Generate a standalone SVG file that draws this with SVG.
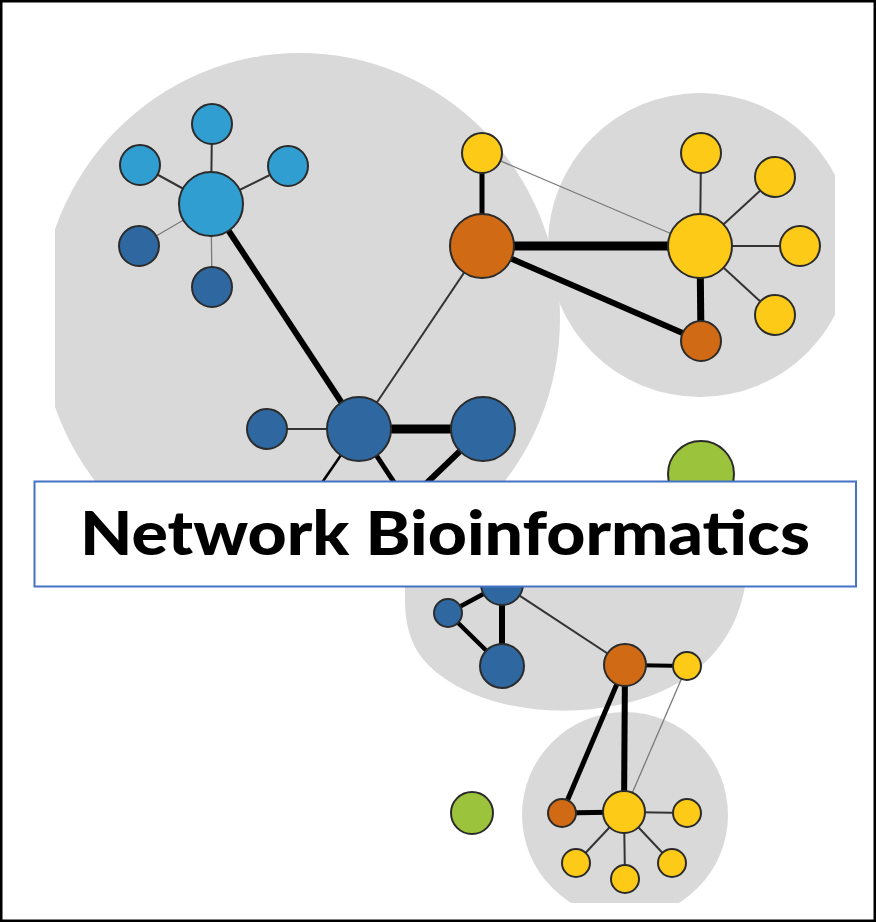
<svg xmlns="http://www.w3.org/2000/svg" width="876" height="922" viewBox="0 0 876 922">
  <style>
    .blob { fill: #d9d9d9; }
    .node { stroke: #2b2b2b; stroke-width: 2; }
    .lb { fill: #319ed1; }
    .db { fill: #2f68a0; }
    .or { fill: #d06a14; }
    .ye { fill: #fdcb17; }
    .gr { fill: #9bc43c; }
    .e { stroke: #000; fill: none; stroke-linecap: butt; }
    .thin { stroke: #333; stroke-width: 2; }
    .hair { stroke: #7a7a7a; stroke-width: 1.3; }
    .title { font-family: Lato, "Open Sans", "Liberation Sans", sans-serif; font-weight: 900; font-size: 60px; fill: #000; }
  </style>
  <defs>
    <clipPath id="clipBig"><rect x="55" y="0" width="821" height="922"/></clipPath>
    <clipPath id="clipTR"><rect x="0" y="0" width="835" height="922"/></clipPath>
    <clipPath id="clipLow"><rect x="0" y="0" width="876" height="903"/></clipPath>
  </defs>
  <rect x="0" y="0" width="876" height="922" fill="#fff"/>

  <g id="clusters">
    <ellipse class="blob" cx="300" cy="318" rx="260" ry="265" clip-path="url(#clipBig)"/>
    <circle class="blob" cx="700" cy="245" r="152" clip-path="url(#clipTR)"/>
    <path class="blob" d="M405,481 L752,481 C754,540 748,600 730,630 C705,675 660,700 600,708 C545,716 480,706 440,675 C420,660 405,640 405,600 Z"/>
    <circle class="blob" cx="625" cy="815" r="103" clip-path="url(#clipLow)"/>
  </g>

  <g id="connectors">
    <line class="e thin" x1="211" y1="204" x2="212" y2="124"/>
    <line class="e thin" x1="211" y1="204" x2="140" y2="165"/>
    <line class="e thin" x1="211" y1="204" x2="288" y2="166"/>
    <line class="e hair" x1="211" y1="204" x2="139" y2="246"/>
    <line class="e hair" x1="211" y1="204" x2="212" y2="287"/>
    <line class="e" stroke-width="6" x1="211" y1="204" x2="359" y2="429"/>
    <line class="e thin" x1="359" y1="429" x2="267" y2="429"/>
    <line class="e" stroke-width="9" x1="359" y1="429" x2="483" y2="429"/>
    <line class="e thin" x1="359" y1="429" x2="482" y2="246"/>
    <line class="e" stroke-width="2.5" x1="359" y1="429" x2="310" y2="500"/>
    <line class="e" stroke-width="5" x1="359" y1="429" x2="407" y2="502"/>
    <line class="e" stroke-width="6" x1="483" y1="429" x2="407" y2="502"/>
    <line class="e" stroke-width="5" x1="482" y1="246" x2="482" y2="153"/>
    <line class="e hair" x1="482" y1="153" x2="700" y2="246"/>
    <line class="e" stroke-width="9" x1="482" y1="246" x2="700" y2="246"/>
    <line class="e" stroke-width="6" x1="482" y1="246" x2="701" y2="341"/>
    <line class="e" stroke-width="7" x1="700" y1="246" x2="701" y2="341"/>
    <line class="e thin" x1="700" y1="246" x2="701" y2="153"/>
    <line class="e thin" x1="700" y1="246" x2="775" y2="177"/>
    <line class="e thin" x1="700" y1="246" x2="800" y2="246"/>
    <line class="e thin" x1="700" y1="246" x2="775" y2="315"/>
    <line class="e" stroke-width="4.5" x1="502" y1="584" x2="448" y2="613"/>
    <line class="e" stroke-width="4.5" x1="448" y1="613" x2="502" y2="666"/>
    <line class="e" stroke-width="6" x1="502" y1="584" x2="502" y2="666"/>
    <line class="e thin" x1="502" y1="584" x2="625" y2="665"/>
    <line class="e" stroke-width="4" x1="625" y1="665" x2="687" y2="666"/>
    <line class="e" stroke-width="6" x1="625" y1="665" x2="624" y2="812"/>
    <line class="e" stroke-width="5" x1="625" y1="665" x2="562" y2="813"/>
    <line class="e hair" x1="687" y1="666" x2="624" y2="812"/>
    <line class="e" stroke-width="5" x1="562" y1="813" x2="624" y2="812"/>
    <line class="e thin" x1="624" y1="812" x2="687" y2="813"/>
    <line class="e thin" x1="624" y1="812" x2="576" y2="863"/>
    <line class="e thin" x1="624" y1="812" x2="625" y2="879"/>
    <line class="e thin" x1="624" y1="812" x2="672" y2="863"/>
  </g>

  <g id="n-lb-hub"><circle class="node lb" cx="211" cy="204" r="32"/></g>
  <g id="n-lb-top"><circle class="node lb" cx="212" cy="124" r="20"/></g>
  <g id="n-lb-left"><circle class="node lb" cx="140" cy="165" r="20"/></g>
  <g id="n-lb-right"><circle class="node lb" cx="288" cy="166" r="20"/></g>
  <g id="n-db-ll"><circle class="node db" cx="139" cy="246" r="20"/></g>
  <g id="n-db-bot"><circle class="node db" cx="212" cy="287" r="20"/></g>

  <g id="n-db-hub"><circle class="node db" cx="359" cy="429" r="32"/></g>
  <g id="n-db-left"><circle class="node db" cx="267" cy="429" r="20"/></g>
  <g id="n-db-right"><circle class="node db" cx="483" cy="429" r="32"/></g>

  <g id="n-or-big"><circle class="node or" cx="482" cy="246" r="32"/></g>
  <g id="n-ye-top"><circle class="node ye" cx="482" cy="153" r="20"/></g>
  <g id="n-ye-hub"><circle class="node ye" cx="700" cy="246" r="32"/></g>
  <g id="n-ye-t"><circle class="node ye" cx="701" cy="153" r="20"/></g>
  <g id="n-ye-ur"><circle class="node ye" cx="775" cy="177" r="20"/></g>
  <g id="n-ye-r"><circle class="node ye" cx="800" cy="246" r="20"/></g>
  <g id="n-ye-lr"><circle class="node ye" cx="775" cy="315" r="20"/></g>
  <g id="n-or-small"><circle class="node or" cx="701" cy="341" r="20"/></g>

  <g id="n-gr-top"><circle class="node gr" cx="701" cy="474" r="33"/></g>

  <g id="n-db-m1"><circle class="node db" cx="502" cy="584" r="21"/></g>
  <g id="n-db-m2"><circle class="node db" cx="448" cy="613" r="14"/></g>
  <g id="n-db-m3"><circle class="node db" cx="502" cy="666" r="22"/></g>
  <g id="n-or-m"><circle class="node or" cx="625" cy="665" r="21"/></g>
  <g id="n-ye-m"><circle class="node ye" cx="687" cy="666" r="14"/></g>

  <g id="n-gr-low"><circle class="node gr" cx="472" cy="813" r="21"/></g>
  <g id="n-or-low"><circle class="node or" cx="562" cy="813" r="14"/></g>
  <g id="n-ye-lhub"><circle class="node ye" cx="624" cy="812" r="21"/></g>
  <g id="n-ye-l1"><circle class="node ye" cx="687" cy="813" r="14"/></g>
  <g id="n-ye-l2"><circle class="node ye" cx="576" cy="863" r="14"/></g>
  <g id="n-ye-l3"><circle class="node ye" cx="625" cy="879" r="14"/></g>
  <g id="n-ye-l4"><circle class="node ye" cx="672" cy="863" r="14"/></g>

  <g id="title">
    <rect x="34.5" y="481.5" width="821.5" height="105" fill="#fff" stroke="#4472c4" stroke-width="2"/>
    <text class="title" x="80" y="555" textLength="730" lengthAdjust="spacingAndGlyphs">Network Bioinformatics</text>
  </g>

  <rect id="frame" x="1.25" y="1.25" width="873.5" height="919.5" fill="none" stroke="#000" stroke-width="2.5"/>
</svg>
